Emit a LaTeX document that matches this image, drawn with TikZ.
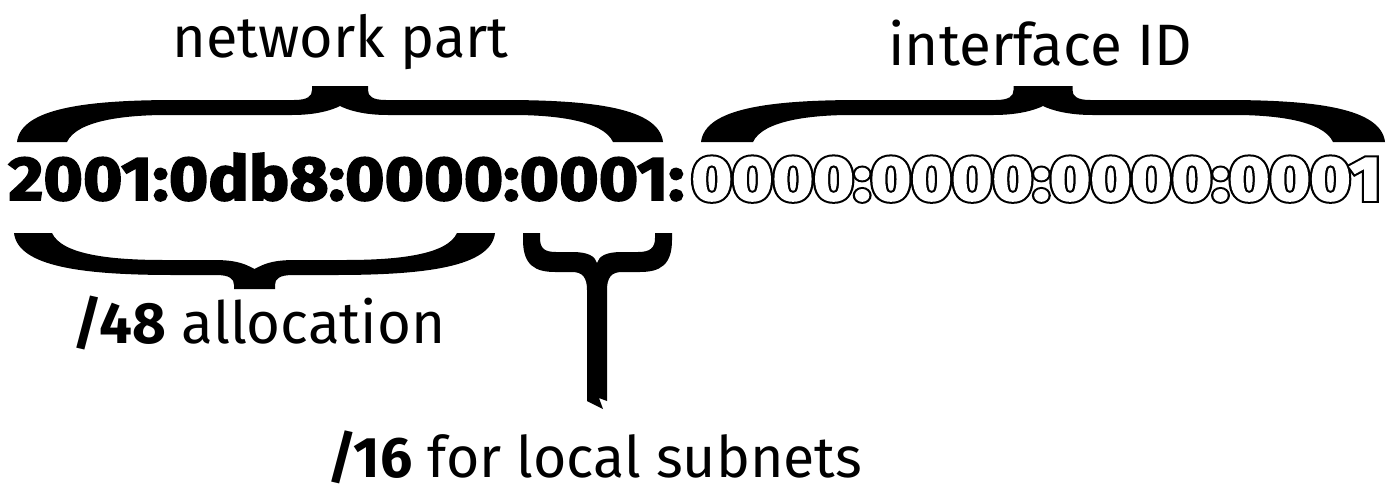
\documentclass[tikz,border=0pt]{standalone}
\usepackage{fontspec}
\setmainfont{Fira Sans}
\newfontfamily\heavyfont{Fira Sans}[BoldFeatures={FakeBold=2.5}]
\newfontfamily\rimfont{Fira Sans}[BoldFeatures={FakeBold=9}]
\usepackage{graphicx}

% box whose height is exactly that of the digit 0
\newcommand\digitbox[1]{\raisebox{0pt}[\fontcharht\font`0][0pt]{#1}}

% wide curly brace: #1 placement, #2 half width, #3 tip width, #4 half width of the nub
\newcommand\wbrace[4]{%
  \fill[#1] (-#2,142) .. controls (-#2+4,108) and (-#2+70,100) .. (-#2+160,100)
    -- (-#4-18,100) .. controls (-#4-4,100) and (-#4,96) .. (-#4,90) -- (-#4,86)
    -- (#4,86) -- (#4,90) .. controls (#4,96) and (#4+4,100) .. (#4+18,100)
    -- (#2-160,100) .. controls (#2-70,100) and (#2-4,108) .. (#2,142)
    -- (#2-#3,142) .. controls (#2-#3-10,120) and (#2-#3-60,115) .. (#2-150,115)
    -- (#4+20,115) .. controls (#4-5,115) and (8,110) .. (0,106)
    .. controls (-8,110) and (-#4+5,115) .. (-#4-20,115)
    -- (-#2+150,115) .. controls (-#2+#3+60,115) and (-#2+#3+10,120) .. (-#2+#3,142)
    -- cycle;}

\tikzset{label text/.style={anchor=base west,inner sep=0}}

\begin{document}
\begin{tikzpicture}[x=0.5pt,y=-0.5pt]
\path[use as bounding box] (0,0) rectangle (1395,487);

% labels above
\node[label text] (net) at (172,57)
  {\resizebox{168pt}{!}{\fontsize{30}{36}\selectfont network part}};
\node[label text] (iface) at (888,65)
  {\resizebox{152pt}{!}{\fontsize{30}{36}\selectfont interface ID}};

% the address: prefix solid
\node[label text] (prefix) at (8,200)
  {\resizebox{338pt}{21.5pt}{\heavyfont\bfseries\fontsize{30}{36}\selectfont\digitbox{2001:0db8:0000:0001:}}};
% interface part outlined: a wide black rim under a white face
\node[label text] (hostrim) at (691,200)
  {\resizebox{345pt}{21.5pt}{\rimfont\bfseries\fontsize{30}{36}\selectfont\digitbox{0000:0000:0000:0001}}};
\node[label text,text=white] (hostid) at (691,200)
  {\resizebox{345pt}{21.5pt}{\heavyfont\bfseries\fontsize{30}{36}\selectfont\digitbox{0000:0000:0000:0001}}};

% braces over the address
\wbrace{shift={(340,0)}}{323}{50}{28}
\wbrace{shift={(1043,0)}}{342}{52}{29.5}

% brace under the /48 prefix
\wbrace{shift={(254.5,375)},yscale=-1}{240.5}{38}{20.5}

% brace under the subnet field, with its long stem
\fill (523,233) -- (523,240) .. controls (523,265) and (535,272) .. (555,272)
  -- (572,272) .. controls (583,272) and (587,278) .. (587,290) -- (587,401)
  -- (603,409) -- (599,398) -- (607,401) -- (607,290)
  .. controls (607,278) and (611,272) .. (622,272) -- (640,272)
  .. controls (660,272) and (672,265) .. (672,240) -- (672,233) -- (655,233)
  -- (655,238) .. controls (655,248) and (650,252) .. (638,252) -- (622,252)
  .. controls (606,252) and (599,256) .. (597,263)
  .. controls (595,256) and (588,252) .. (572,252) -- (556,252)
  .. controls (544,252) and (540,248) .. (540,238) -- (540,233) -- cycle;

% labels below
\node[label text] (alloc) at (72,343)
  {\resizebox{186.5pt}{!}{\fontsize{30}{36}\selectfont\textbf{/48} allocation}};
\node[label text] (subnets) at (327,477)
  {\resizebox{267.5pt}{!}{\fontsize{30}{36}\selectfont\raisebox{0pt}[\height][0pt]{\textbf{/16} for local subnets}}};
\end{tikzpicture}
\end{document}
